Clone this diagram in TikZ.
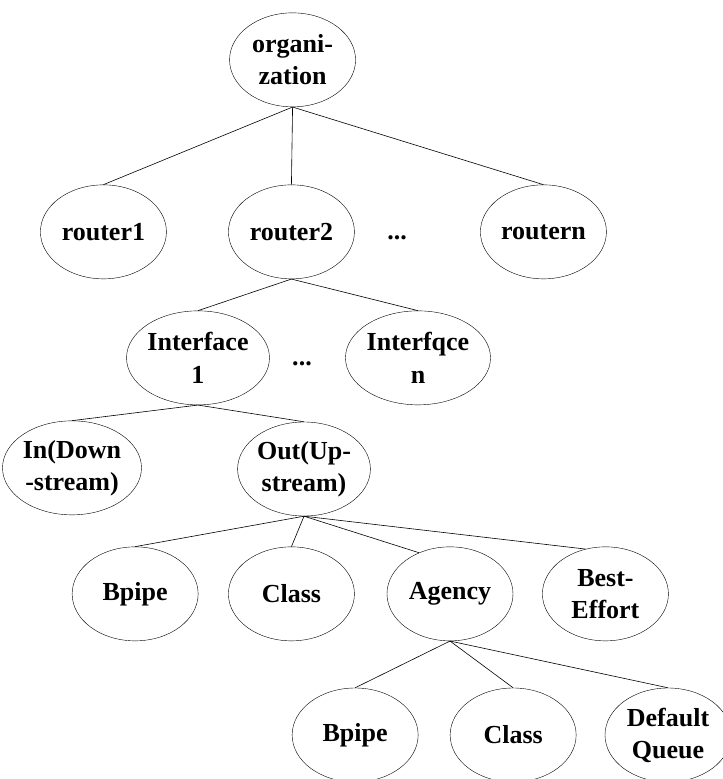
\documentclass[tikz,border=0pt]{standalone}
\usepackage{fontspec}
\setmainfont{Liberation Serif}
\usetikzlibrary{shapes.geometric}
\begin{document}
\begin{tikzpicture}[
    elli/.style={draw,ellipse,minimum width=4.41cm,minimum height=3.29cm,inner sep=0pt,align=center,font=\fontsize{25.9}{31.9}\selectfont\bfseries},
    dots/.style={font=\fontsize{25.9}{31.9}\selectfont\bfseries},
    link/.style={line width=0.6pt}]
    \clip (0,0) rectangle (25.305,27.265);
    % top
    \node[elli] (org) at (10.24,25.17){organi-\\zation};
    \node[elli] (router1) at (3.62,19.15){router1};
    \node[elli] (router2) at (10.20,19.15){router2};
    \node[dots] (rdots) at (13.90,18.94){...};
    \node[elli] (routern) at (19.02,19.15){routern};
    % interfaces
    \node[elli] (if1) at (6.93,14.74){Interface\\1};
    \node[dots] (ifdots) at (10.57,14.53){...};
    \node[elli] (ifn) at (14.63,14.74){Interfqce\\n};
    % directions
    \node[elli] (down) at (2.52,10.89){In(Down\\-stream)};
    \node[elli] (up) at (10.64,10.85){Out(Up-\\stream)};
    % classes
    \node[elli] (bpipe) at (4.73,6.48){Bpipe};
    \node[elli] (class) at (10.20,6.48){Class};
    \node[elli] (agency) at (15.75,6.48){Agency};
    \node[elli] (best) at (21.19,6.48){Best-\\Effort};
    % agency
    \node[elli] (abpipe) at (12.43,1.54){Bpipe};
    \node[elli] (aclass) at (17.96,1.54){Class};
    \node[elli] (queue) at (23.38,1.54){Default\\Queue};

    \draw[link] (org.south)--(router1.north);
    \draw[link] (org.south)--(router2.north);
    \draw[link] (org.south)--(routern.north);
    \draw[link] (router2.south)--(if1.north);
    \draw[link] (router2.south)--(ifn.north);
    \draw[link] (if1.south)--(down.north);
    \draw[link] (if1.south)--(up.north);
    \draw[link] (up.south)--(bpipe.north);
    \draw[link] (up.south)--(class.north);
    \draw[link] (up.south)--(agency.127);
    \draw[link] (up.south)--(best.114);
    \draw[link] (agency.south)--(abpipe.north);
    \draw[link] (agency.south)--(aclass.north);
    \draw[link] (agency.south)--(queue.north);
\end{tikzpicture}
\end{document}
